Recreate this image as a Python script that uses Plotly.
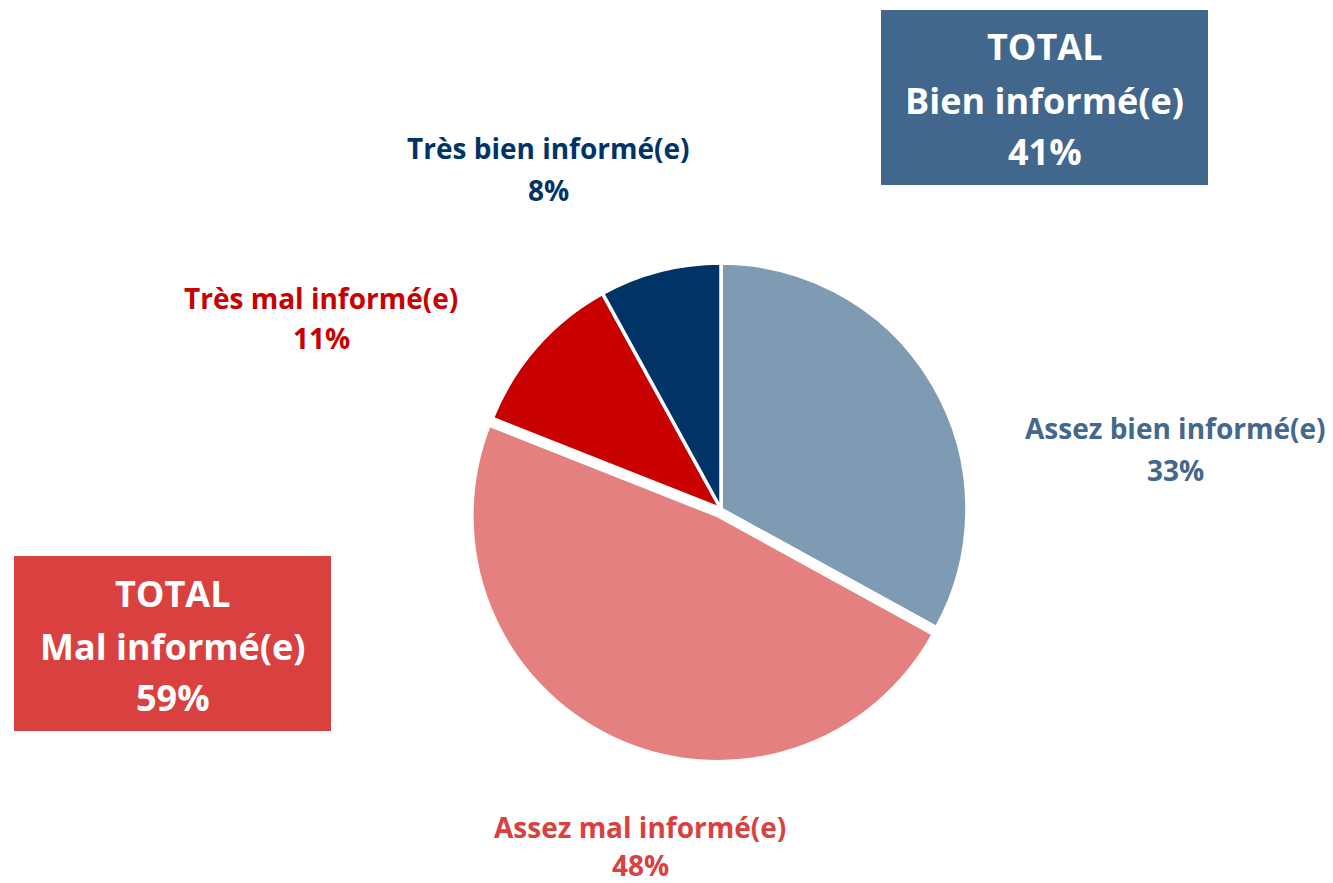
import plotly.graph_objects as go

W, H = 1333, 883

categories = ["Assez bien informé(e)", "Assez mal informé(e)", "Très mal informé(e)", "Très bien informé(e)"]
values = [33, 48, 11, 8]
slice_colors = ["#7f9bb4", "#e48080", "#c80000", "#003366"]
label_colors = ["#44678c", "#d94141", "#c80000", "#003366"]
pulls = [0, 0.03, 0, 0]

total_names = ["Bien informé(e)", "Mal informé(e)"]
total_values = [41, 59]
total_colors = ["#41678c", "#d94141"]

# label anchor positions in pixels (center x, name y, pct y)
label_pos = [(1175, 428, 470), (640, 827, 865), (321, 298, 338), (548, 148, 190)]
box_pos = [(881, 10, 1208, 185), (14, 556, 331, 731)]

FONT = "Open Sans"
LSIZE = 28
BSIZE = 36

def px(x):
    return x / W

def py(y):
    return 1 - y / H

fig = go.Figure()
cx, cy, R = 721, 509, 246 * 1.03
fig.add_trace(go.Pie(
    labels=categories,
    values=values,
    sort=False,
    direction="clockwise",
    rotation=0,
    pull=pulls,
    marker=dict(colors=slice_colors, line=dict(color="white", width=3.5)),
    textinfo="none",
    hoverinfo="label+percent",
    showlegend=False,
    domain=dict(x=[px(cx - R), px(cx + R)], y=[py(cy + R), py(cy - R)]),
))

annotations = []
for cat, v, col, (lx, ny, vy) in zip(categories, values, label_colors, label_pos):
    annotations.append(dict(x=px(lx), y=py(ny), xref="paper", yref="paper", text=f"<b>{cat}</b>",
                            showarrow=False, font=dict(family=FONT, size=LSIZE, color=col), xanchor="center", yanchor="middle"))
    annotations.append(dict(x=px(lx), y=py(vy), xref="paper", yref="paper", text=f"<b>{v}%</b>",
                            showarrow=False, font=dict(family=FONT, size=LSIZE, color=col), xanchor="center", yanchor="middle"))

shapes = []
for name, v, col, (x0, y0, x1, y1) in zip(total_names, total_values, total_colors, box_pos):
    shapes.append(dict(type="rect", xref="paper", yref="paper", x0=px(x0), x1=px(x1), y0=py(y1), y1=py(y0),
                       fillcolor=col, line=dict(width=0), layer="below"))
    xc = (x0 + x1) / 2
    for txt, yy in zip(["TOTAL", name, f"{v}%"], [y0 + 37, y0 + 90, y0 + 141]):
        annotations.append(dict(x=px(xc), y=py(yy), xref="paper", yref="paper", text=f"<b>{txt}</b>",
                                showarrow=False, font=dict(family=FONT, size=BSIZE, color="white"),
                                xanchor="center", yanchor="middle"))

fig.update_layout(
    width=W, height=H,
    margin=dict(l=0, r=0, t=0, b=0),
    paper_bgcolor="white", plot_bgcolor="white",
    annotations=annotations, shapes=shapes,
)
fig.write_html("out.html", config={"displayModeBar": False},
               post_script="document.body.style.margin='0';document.body.style.overflow='hidden';")
